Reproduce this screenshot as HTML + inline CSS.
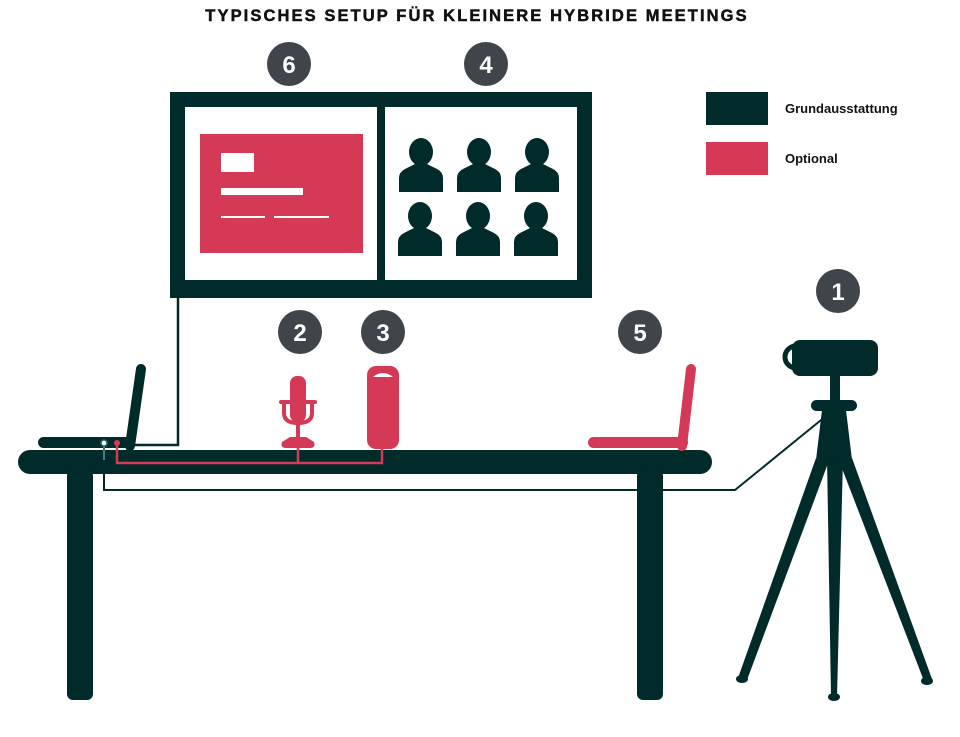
<!DOCTYPE html>
<html><head><meta charset="utf-8"><style>
html,body{margin:0;padding:0;background:#fff;width:960px;height:737px;overflow:hidden}
svg{display:block}
text{font-family:"Liberation Sans",sans-serif}
</style></head><body>
<svg width="960" height="737" viewBox="0 0 960 737" xmlns="http://www.w3.org/2000/svg">
<defs>
<g id="p"><ellipse cx="0" cy="0" rx="12" ry="14"/><path d="M-22 40 L-22 26 Q-22 20 -16 17 L-6 12 L6 12 L16 17 Q22 20 22 26 L22 40 Z"/></g>
</defs>
<text x="477" y="21" text-anchor="middle" font-size="16.5" font-weight="bold" letter-spacing="2.1" fill="#111" stroke="#111" stroke-width="0.5">TYPISCHES SETUP FÜR KLEINERE HYBRIDE MEETINGS</text>
<!-- legend -->
<rect x="706" y="92" width="62" height="33" fill="#012a2b"/>
<rect x="706" y="142" width="62" height="33" fill="#d43a55"/>
<text x="785" y="113" font-size="13" font-weight="bold" fill="#111">Grundausstattung</text>
<text x="785" y="163" font-size="13" font-weight="bold" fill="#111">Optional</text>
<!-- screen -->
<rect x="170" y="92" width="422" height="206" fill="#012a2b"/>
<rect x="185" y="107" width="192" height="173" fill="#fff"/>
<rect x="385" y="107" width="192" height="173" fill="#fff"/>
<rect x="200" y="134" width="163" height="119" fill="#d43a55"/>
<rect x="221" y="153" width="33" height="19" fill="#fff"/>
<rect x="221" y="188" width="82" height="7" fill="#fff"/>
<rect x="221" y="216" width="44" height="2" fill="#fff"/>
<rect x="274" y="216" width="55" height="2" fill="#fff"/>
<g fill="#012a2b">
<use href="#p" transform="translate(421,152)"/><use href="#p" transform="translate(479,152)"/><use href="#p" transform="translate(537,152)"/>
<use href="#p" transform="translate(420,216)"/><use href="#p" transform="translate(478,216)"/><use href="#p" transform="translate(536,216)"/>
</g>
<!-- number circles -->
<g fill="#3f454b"><circle cx="289" cy="64" r="22"/><circle cx="486" cy="64" r="22"/><circle cx="300" cy="332" r="22"/><circle cx="383" cy="332" r="22"/><circle cx="640" cy="332" r="22"/><circle cx="838" cy="291" r="22"/></g>
<g fill="#fff" font-size="24" font-weight="bold" text-anchor="middle">
<text x="289" y="73">6</text><text x="486" y="73">4</text><text x="300" y="341">2</text><text x="383" y="341">3</text><text x="640" y="341">5</text><text x="838" y="300">1</text></g>
<!-- table -->
<rect x="18" y="450" width="694" height="24" rx="12" fill="#012a2b"/>
<rect x="67" y="470" width="26" height="230" rx="6" fill="#012a2b"/>
<rect x="637" y="470" width="26" height="230" rx="6" fill="#012a2b"/>
<!-- left laptop -->
<rect x="38" y="437" width="96" height="11" rx="5.5" fill="#012a2b"/>
<line x1="141" y1="369" x2="130" y2="446" stroke="#012a2b" stroke-width="10" stroke-linecap="round"/>
<polyline points="178,298 178,445 134,445" fill="none" stroke="#012a2b" stroke-width="2.5"/>
<!-- cables -->
<polyline points="117,443 117,463 382,463 382,446" fill="none" stroke="#d43a55" stroke-width="2.5"/>
<line x1="298" y1="446" x2="298" y2="463" stroke="#d43a55" stroke-width="2.5"/>
<circle cx="117" cy="443" r="3" fill="#d43a55"/>
<polyline points="104,443 104,490 735,490 826,416" fill="none" stroke="#012a2b" stroke-width="2"/>
<polyline points="104,443 104,460" fill="none" stroke="#8ecfc9" stroke-width="1"/>
<circle cx="104" cy="443" r="3" fill="#fff" stroke="#2a6a66" stroke-width="1.5"/>
<!-- mic -->
<g fill="#d43a55">
<rect x="290" y="376" width="16" height="46" rx="7"/>
<rect x="279" y="400" width="38" height="4" rx="2"/>
<path d="M284 403 L284 413 Q284 423 298 423 Q312 423 312 413 L312 403" fill="none" stroke="#d43a55" stroke-width="4"/>
<rect x="296" y="422" width="4" height="16"/>
<path d="M290 437 L306 437 L314 442 Q316 448 310 448 L286 448 Q280 448 282 442 Z"/>
<!-- speaker -->
<rect x="367" y="366" width="32" height="83" rx="9"/>
<!-- right laptop -->
<rect x="588" y="437" width="100" height="11" rx="5.5"/>
<line x1="691" y1="369" x2="682" y2="446" stroke="#d43a55" stroke-width="10" stroke-linecap="round"/>
</g>
<path d="M373 377 Q383 369 393 377 Z" fill="#fff"/>
<!-- camera -->
<g fill="#012a2b">
<circle cx="796" cy="357" r="11" fill="none" stroke="#012a2b" stroke-width="5"/>
<rect x="792" y="340" width="86" height="36" rx="8"/>
<rect x="830" y="375" width="10" height="28"/>
<rect x="811" y="400" width="46" height="11" rx="5.5"/>
<polygon points="822,410 846,410 852,460 816,460"/>
<polygon points="816,458 830,458 747,680 738,678"/>
<polygon points="827,458 843,458 837,697 831,697"/>
<polygon points="838,458 852,458 932,679 924,681"/>
<ellipse cx="742" cy="679" rx="6" ry="4"/>
<ellipse cx="834" cy="697" rx="6" ry="4"/>
<ellipse cx="927" cy="681" rx="6" ry="4"/>
</g>
</svg>
</body></html>
